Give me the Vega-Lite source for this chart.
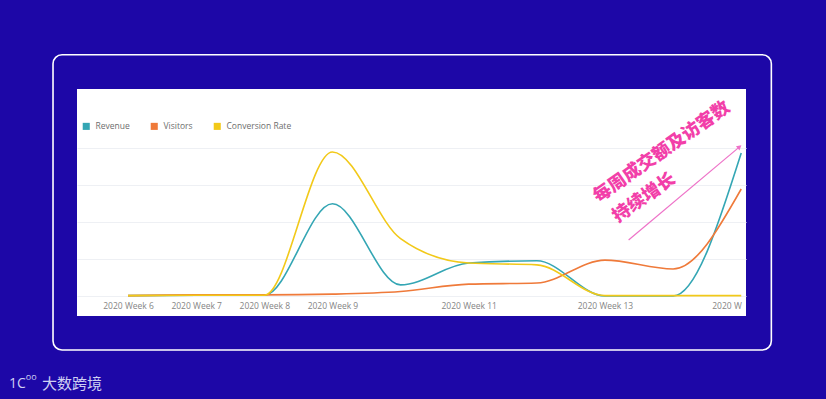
{
  "$schema": "https://vega.github.io/schema/vega-lite/v6.json",
  "width": 669,
  "height": 227,
  "autosize": {"type": "none"},
  "padding": {"left": 77, "top": 89, "right": 80, "bottom": 83},
  "background": "#1d07a7",
  "config": {"view": {"fill": "#ffffff", "stroke": null}, "font": "Open Sans"},
  "layer": [
    {
      "data": {"values": [
        {"week": 6, "series": "Revenue", "value": 0.01},
        {"week": 7, "series": "Revenue", "value": 0.02},
        {"week": 8, "series": "Revenue", "value": 0.02},
        {"week": 9, "series": "Revenue", "value": 2.49},
        {"week": 10, "series": "Revenue", "value": 0.3},
        {"week": 11, "series": "Revenue", "value": 0.89},
        {"week": 12, "series": "Revenue", "value": 0.95},
        {"week": 13, "series": "Revenue", "value": 0.0},
        {"week": 14, "series": "Revenue", "value": 0.0},
        {"week": 15, "series": "Revenue", "value": 3.86},
        {"week": 6, "series": "Visitors", "value": 0.01},
        {"week": 7, "series": "Visitors", "value": 0.03},
        {"week": 8, "series": "Visitors", "value": 0.03},
        {"week": 9, "series": "Visitors", "value": 0.05},
        {"week": 10, "series": "Visitors", "value": 0.12},
        {"week": 11, "series": "Visitors", "value": 0.32},
        {"week": 12, "series": "Visitors", "value": 0.35},
        {"week": 13, "series": "Visitors", "value": 0.97},
        {"week": 14, "series": "Visitors", "value": 0.73},
        {"week": 15, "series": "Visitors", "value": 2.89},
        {"week": 6, "series": "Conversion Rate", "value": 0.01},
        {"week": 7, "series": "Conversion Rate", "value": 0.02},
        {"week": 8, "series": "Conversion Rate", "value": 0.02},
        {"week": 9, "series": "Conversion Rate", "value": 3.89},
        {"week": 10, "series": "Conversion Rate", "value": 1.55},
        {"week": 11, "series": "Conversion Rate", "value": 0.89},
        {"week": 12, "series": "Conversion Rate", "value": 0.84},
        {"week": 13, "series": "Conversion Rate", "value": 0.01},
        {"week": 14, "series": "Conversion Rate", "value": 0.01},
        {"week": 15, "series": "Conversion Rate", "value": 0.01}
      ]},
      "mark": {"type": "line", "interpolate": "monotone", "strokeWidth": 1.6},
      "encoding": {
        "x": {
          "field": "week", "type": "quantitative",
          "scale": {"domain": [5.251, 15.07], "nice": false, "zero": false},
          "axis": {
            "values": [6, 7, 8, 9, 11, 13, 15],
            "title": null, "grid": false, "ticks": false, "domain": false,
            "labelExpr": "datum.value == 15 ? '2020 W' : '2020 Week ' + datum.value",
            "labelFontSize": 8.5, "labelColor": "#858585", "labelPadding": 0,
            "offset": -15, "labelFlush": false, "labelOverlap": false,
            "labelAlign": {"condition": {"test": "datum.value == 15", "value": "right"}, "value": "center"}
          }
        },
        "y": {
          "field": "value", "type": "quantitative",
          "scale": {"domain": [-0.54, 5.59], "nice": false},
          "axis": {"values": [0, 1, 2, 3, 4], "title": null, "labels": false, "ticks": false, "domain": false, "gridColor": "#eef0f4"}
        },
        "color": {
          "field": "series", "type": "nominal",
          "scale": {"domain": ["Revenue", "Visitors", "Conversion Rate"], "range": ["#34a6b4", "#ef7a3a", "#f2c919"]},
          "legend": {
            "orient": "none", "legendX": 5, "legendY": 33, "direction": "horizontal", "title": null,
            "symbolType": "square", "symbolSize": 50, "labelFontSize": 8.5, "labelColor": "#6e6e6e",
            "columnPadding": 20, "labelOffset": 5,
            "encode": {"symbols": {"update": {"fill": {"scale": "color", "field": "value"}, "strokeWidth": {"value": 0}}}}
          }
        }
      }
    },
    {
      "data": {"values": [{}]},
      "mark": {"type": "rect", "filled": false, "stroke": "#ffffff", "strokeWidth": 1.6, "cornerRadius": 9},
      "encoding": {"x": {"datum": 4.899}, "x2": {"datum": 15.442}, "y": {"datum": 6.514}, "y2": {"datum": -1.459}}
    },
    {
      "data": {"values": [{}]},
      "mark": {"type": "rule", "color": "#ee72c8", "strokeWidth": 1.2},
      "encoding": {"x": {"datum": 13.347}, "y": {"datum": 1.514}, "x2": {"datum": 14.957}, "y2": {"datum": 4.0}}
    },
    {
      "data": {"values": [{}]},
      "mark": {"type": "point", "shape": "triangle-up", "filled": true, "color": "#ee72c8", "size": 30, "angle": 50, "opacity": 1},
      "encoding": {"x": {"datum": 14.975}, "y": {"datum": 4.03}}
    },
    {
      "data": {"values": [{}]},
      "mark": {"type": "text", "text": "每周成交额及访客数", "angle": -35, "font": "Noto Sans CJK SC", "fontSize": 18, "fontWeight": 900, "color": "#f23fa9", "align": "center", "baseline": "middle"},
      "encoding": {"x": {"datum": 13.837}, "y": {"datum": 3.878}}
    },
    {
      "data": {"values": [{}]},
      "mark": {"type": "text", "text": "持续增长", "angle": -35, "font": "Noto Sans CJK SC", "fontSize": 18, "fontWeight": 900, "color": "#f23fa9", "align": "center", "baseline": "middle"},
      "encoding": {"x": {"datum": 13.58}, "y": {"datum": 2.641}}
    },
    {
      "data": {"values": [{}]},
      "mark": {"type": "text", "text": "大数跨境", "font": "Noto Sans CJK SC", "fontSize": 15, "color": "#cfd0f2", "align": "left", "baseline": "middle"},
      "encoding": {"x": {"datum": 4.737}, "y": {"datum": -2.378}}
    },
    {
      "data": {"values": [{}]},
      "mark": {"type": "text", "text": "1C", "font": "Open Sans", "fontSize": 14, "color": "#cfd0f2", "align": "left", "baseline": "middle"},
      "encoding": {"x": {"datum": 4.253}, "y": {"datum": -2.378}}
    },
    {
      "data": {"values": [{}]},
      "mark": {"type": "text", "text": "oo", "font": "Open Sans", "fontSize": 9, "color": "#cfd0f2", "align": "left", "baseline": "middle"},
      "encoding": {"x": {"datum": 4.5}, "y": {"datum": -2.2}}
    }
  ]
}
